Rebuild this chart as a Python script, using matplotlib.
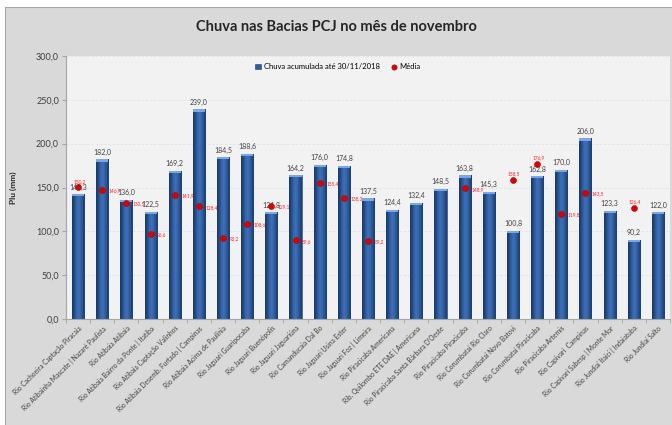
import numpy as np
import matplotlib

matplotlib.use("Agg")

import matplotlib.pyplot as plt
from matplotlib.colors import LinearSegmentedColormap
from matplotlib.patches import Rectangle

plt.rcParams["font.family"] = ["Lato", "DejaVu Sans"]

stations = [
    "Rio Cachoeira Captação Piracaia",
    "Rio Atibainha Mascate | Nazaré Paulista",
    "Rio Atibaia Atibaia",
    "Rio Atibaia Bairro da Ponte | Itatiba",
    "Rio Atibaia Captação Valinhos",
    "Rio Atibaia Desemb. Furtado | Campinas",
    "Rio Atibaia Acima de Paulínia",
    "Rio Jaguari Guaripocaba",
    "Rio Jaguari Buenópolis",
    "Rio Jaguari Jaguariúna",
    "Rio Camanducaia Dal Bo",
    "Rio Jaguari Usina Ester",
    "Rio Jaguari Foz | Limeira",
    "Rio Piracicaba Americana",
    "Rib. Quilombo ETE DAE | Americana",
    "Rio Piracicaba Santa Bárbara D'Oeste",
    "Rio Piracicaba Piracicaba",
    "Rio Corumbataí Rio Claro",
    "Rio Corumbataí Novo Batovi",
    "Rio Corumbataí Piracicaba",
    "Rio Piracicaba Artemis",
    "Rio Capivari  Campinas",
    "Rio Capivari Sabesp | Monte Mor",
    "Rio Jundiaí Itaici | Indaiatuba",
    "Rio Jundiaí Salto",
]
rain_nov = [142.3, 182.0, 136.0, 122.5, 169.2, 239.0, 184.5, 188.6, 121.8, 164.2,
            176.0, 174.8, 137.5, 124.4, 132.4, 148.5, 163.8, 145.3, 100.8, 162.8,
            170.0, 206.0, 123.3, 90.2, 122.0]
rain_mean = [150.2, 146.9, 132.5, 96.6, 141.9, 128.4, 92.2, 108.6, 129.1, 89.6,
             155.4, 138.3, 89.2, np.nan, np.nan, np.nan, 148.9, np.nan, 158.5, 176.9,
             119.8, 143.5, np.nan, 126.4, np.nan]
# stations whose mean label sits above the marker instead of to its right
label_above = {0, 18, 19, 23}

y_ticks = [0, 50, 100, 150, 200, 250, 300]


def fmt(value):
    return f"{value:.1f}".replace(".", ",")


fig = plt.figure(figsize=(6.72, 4.25), dpi=100)
fig.patch.set_facecolor("white")
fig.add_artist(Rectangle((5 / 672, -0.01), 1, 1 - 7 / 425 + 0.01, transform=fig.transFigure,
                         facecolor="#d9d9d9", edgecolor="#a6a6a6", linewidth=0.8, zorder=0))

ax = fig.add_axes([66 / 672, 1 - 319 / 425, 604 / 672, 263 / 425])
ax.set_facecolor("#f2f2f2")

x = np.arange(len(stations))
bar_width = 0.5

bars = ax.bar(x, rain_nov, width=bar_width, color="#2e5d9f", edgecolor="#1f3f6e",
              linewidth=0.4, zorder=2, label="Chuva acumulada até 30/11/2018")

# horizontal shading to fake the cylinder look
cyl_cmap = LinearSegmentedColormap.from_list("cyl", ["#1b3b6c", "#3b72bd"])
shade = np.array([[0.0, 0.35, 0.75, 0.95, 0.75, 0.45, 0.1]])
for bar in bars:
    x0, w, h = bar.get_x(), bar.get_width(), bar.get_height()
    img = ax.imshow(shade, cmap=cyl_cmap, extent=(x0, x0 + w, 0, h), aspect="auto",
                    zorder=2.1, interpolation="bicubic")
    img.set_clip_path(bar)
    ax.add_patch(Rectangle((x0, h - 2.5), w, 2.5, facecolor="#7aa8e6", edgecolor="none",
                           zorder=2.2))

for xi, val in zip(x, rain_nov):
    ax.text(xi, val + 4, fmt(val), ha="center", va="bottom", fontsize=5, color="#404040",
            zorder=4)

ax.scatter(x, rain_mean, s=18, color="#e00000", edgecolor="#b00000", linewidth=0.4,
           zorder=5, label="Média")
for xi, val in zip(x, rain_mean):
    if np.isnan(val):
        continue
    if xi in label_above:
        ax.text(xi + 0.05, val + 4, fmt(val), ha="center", va="bottom", fontsize=3.4,
                color="#ff2020", zorder=6)
    else:
        ax.text(xi + 0.27, val - 1, fmt(val), ha="left", va="center", fontsize=3.4,
                color="#ff2020", zorder=6)

ax.set_xlim(-0.5, len(stations) - 0.5)
ax.set_ylim(0, 300)
ax.set_yticks(y_ticks)
ax.set_yticklabels([fmt(v) for v in y_ticks], fontsize=6.5, color="#404040")
ax.yaxis.grid(True, color="#dde3ee", linestyle=(0, (3, 2)), linewidth=0.6, zorder=0)
ax.set_axisbelow(True)

ax.set_xticks(x)
ax.set_xticklabels(stations, rotation=45, ha="right", rotation_mode="anchor",
                   fontsize=4.8, color="#404040")
ax.set_xticks(np.arange(len(stations) + 1) - 0.5, minor=True)
ax.tick_params(axis="x", which="major", length=0, pad=4)
ax.tick_params(axis="x", which="minor", length=3, color="#a6a6a6")
ax.tick_params(axis="y", length=3, color="#a6a6a6", pad=2)

for side in ("top", "right"):
    ax.spines[side].set_visible(False)
for side in ("left", "bottom"):
    ax.spines[side].set_color("#a6a6a6")
    ax.spines[side].set_linewidth(0.8)

ax.set_ylabel("Plu (mm)", fontsize=6, fontweight="bold", color="#262626", labelpad=14)

fig.text(0.5, 1 - 27 / 425, "Chuva nas Bacias PCJ no mês de novembro", ha="center",
         va="center", fontsize=10.5, fontweight="bold", color="#262626")

ax.legend(handles=[bars, ax.collections[0]],
          labels=["Chuva acumulada até 30/11/2018", "Média"],
          loc="upper center", bbox_to_anchor=(0.45, 1.0), ncol=2,
          frameon=False, fontsize=5.5, handlelength=0.8, handletextpad=0.3,
          columnspacing=1.5, markerscale=0.9)

fig.savefig("out.png", dpi=100)
